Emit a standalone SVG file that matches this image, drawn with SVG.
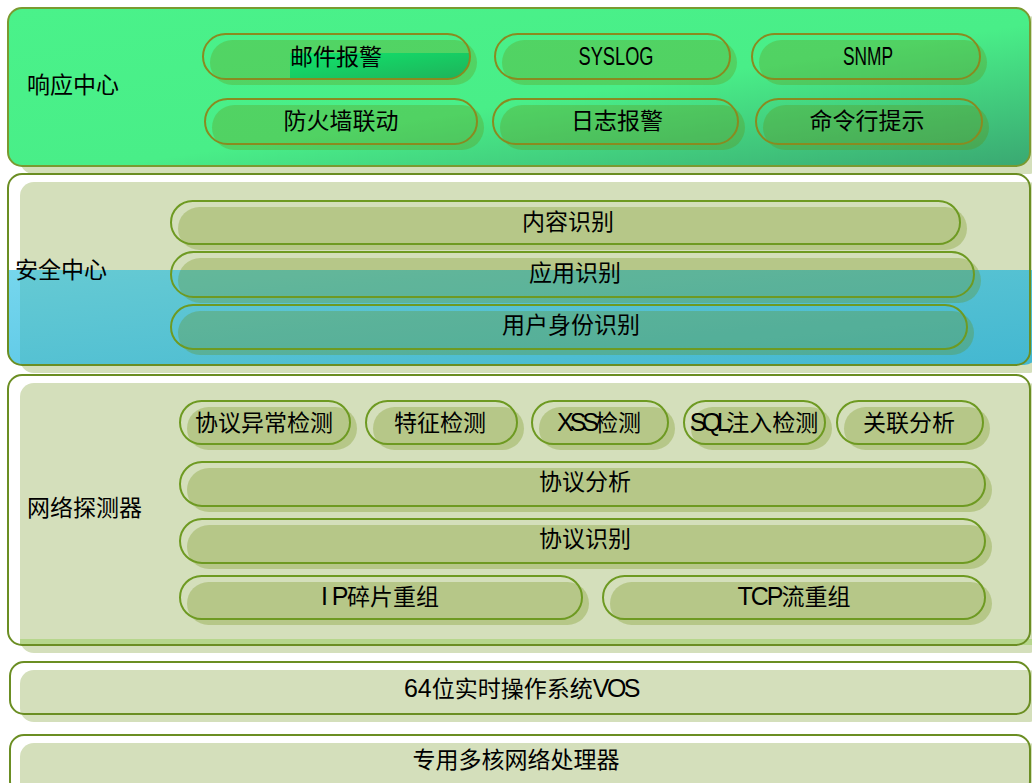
<svg xmlns="http://www.w3.org/2000/svg" width="1032" height="783" viewBox="0 0 1032 783">
<defs>
<linearGradient id="gGreen" x1="0" y1="0" x2="1" y2="1">
<stop offset="0" stop-color="#4af28a"/>
<stop offset="0.55" stop-color="#49ee88"/>
<stop offset="1" stop-color="#3aa872"/>
</linearGradient>
<linearGradient id="gBlue" x1="0" y1="0" x2="1" y2="1">
<stop offset="0" stop-color="#22bde2" stop-opacity="0.62"/>
<stop offset="1" stop-color="#14aad8" stop-opacity="0.76"/>
</linearGradient>
<linearGradient id="gBar" x1="0" y1="0" x2="1" y2="1">
<stop offset="0" stop-color="#10e46c"/>
<stop offset="1" stop-color="#1fb25a"/>
</linearGradient>
<clipPath id="cP2"><rect x="8" y="174" width="1030" height="191" rx="14"/></clipPath>
<clipPath id="cMail"><rect x="203" y="34" width="267" height="45" rx="22.5"/></clipPath>
</defs>
<style>
.pshadow{fill:#d4dfbb}
.pout{fill:none;stroke:#6b8e23;stroke-width:2}
.sh{fill:#688700;fill-opacity:0.27}
.ol{fill:none;stroke:#6e9a22;stroke-width:2}
.ol1{fill:none;stroke:#8a8a20;stroke-width:2}
.t{font-family:"Noto Sans CJK SC","Liberation Sans",sans-serif;font-size:23px;fill:#000;text-anchor:middle}
.tl{font-family:"Noto Sans CJK SC","Liberation Sans",sans-serif;font-size:23px;fill:#000}
.lat{font-family:"Liberation Sans",sans-serif;font-size:25px}
</style>

<!-- Panel 1: 响应中心 -->
<g id="panel-response">
<rect class="pshadow" x="20" y="16" width="1022" height="158" rx="14"/>
<rect x="8" y="8" width="1022" height="158" rx="14" fill="url(#gGreen)" stroke="#7a9a30" stroke-width="2"/>
<text class="tl" x="27" y="93">响应中心</text>
</g>
<g id="node-mail">
<rect class="sh" x="210" y="40" width="267" height="45" rx="22.5"/>
<rect x="290" y="53" width="180" height="26" fill="url(#gBar)" clip-path="url(#cMail)"/>
<rect class="ol1" x="203" y="34" width="267" height="45" rx="22.5"/>
<text class="t" x="336" y="65">邮件报警</text>
</g>
<g id="node-syslog">
<rect class="sh" x="502" y="40" width="235" height="45" rx="22.5"/>
<rect class="ol1" x="495" y="34" width="235" height="45" rx="22.5"/>
<text class="t lat" x="616" y="65" textLength="75" lengthAdjust="spacingAndGlyphs">SYSLOG</text>
</g>
<g id="node-snmp">
<rect class="sh" x="759" y="40" width="228" height="45" rx="22.5"/>
<rect class="ol1" x="752" y="34" width="228" height="45" rx="22.5"/>
<text class="t lat" x="868" y="65" textLength="50" lengthAdjust="spacingAndGlyphs">SNMP</text>
</g>
<g id="node-firewall">
<rect class="sh" x="212" y="105" width="272" height="45" rx="22.5"/>
<rect class="ol1" x="205" y="99" width="272" height="45" rx="22.5"/>
<text class="t" x="341" y="129">防火墙联动</text>
</g>
<g id="node-logalarm">
<rect class="sh" x="500" y="105" width="245" height="45" rx="22.5"/>
<rect class="ol1" x="493" y="99" width="245" height="45" rx="22.5"/>
<text class="t" x="617" y="129">日志报警</text>
</g>
<g id="node-cli">
<rect class="sh" x="763" y="105" width="226" height="45" rx="22.5"/>
<rect class="ol1" x="756" y="99" width="226" height="45" rx="22.5"/>
<text class="t" x="867" y="129">命令行提示</text>
</g>

<!-- Panel 2: 安全中心 -->
<g id="panel-security">
<rect x="8" y="174" width="1022" height="191" rx="14" fill="#ffffff"/>
<rect class="pshadow" x="20" y="182" width="1022" height="191" rx="14"/>
<rect x="8" y="270" width="1030" height="100" fill="url(#gBlue)" clip-path="url(#cP2)"/>
<rect class="pout" x="8" y="174" width="1022" height="191" rx="14"/>
<text class="tl" x="15" y="278">安全中心</text>
</g>
<g id="node-content">
<rect class="sh" x="178" y="207" width="789" height="43" rx="21.5"/>
<rect class="ol" x="171" y="201" width="789" height="43" rx="21.5"/>
<text class="t" x="568" y="230">内容识别</text>
</g>
<g id="node-app">
<rect class="sh" x="178" y="258" width="803" height="45" rx="22.5"/>
<rect class="ol" x="171" y="252" width="803" height="45" rx="22.5"/>
<text class="t" x="575" y="281">应用识别</text>
</g>
<g id="node-user">
<rect class="sh" x="178" y="311" width="796" height="44" rx="22"/>
<rect class="ol" x="171" y="305" width="796" height="44" rx="22"/>
<text class="t" x="571" y="333">用户身份识别</text>
</g>

<!-- Panel 3: 网络探测器 -->
<g id="panel-detector">
<rect x="8" y="375" width="1022" height="270" rx="14" fill="#ffffff"/>
<rect class="pshadow" x="20" y="383" width="1022" height="270" rx="14"/>
<rect x="20" y="639" width="1012" height="6" fill="#b6d68c"/>
<rect class="pout" x="8" y="375" width="1022" height="270" rx="14"/>
<text class="tl" x="27" y="516">网络探测器</text>
</g>
<g id="node-anomaly">
<rect class="sh" x="187" y="407" width="170" height="43" rx="21.5"/>
<rect class="ol" x="180" y="401" width="170" height="43" rx="21.5"/>
<text class="t" x="264" y="431">协议异常检测</text>
</g>
<g id="node-signature">
<rect class="sh" x="373" y="407" width="151" height="43" rx="21.5"/>
<rect class="ol" x="366" y="401" width="151" height="43" rx="21.5"/>
<text class="t" x="440" y="431">特征检测</text>
</g>
<g id="node-xss">
<rect class="sh" x="539" y="407" width="136" height="43" rx="21.5"/>
<rect class="ol" x="532" y="401" width="136" height="43" rx="21.5"/>
<text class="t" x="599" y="431"><tspan class="lat" letter-spacing="-4">XSS</tspan>检测</text>
</g>
<g id="node-sql">
<rect class="sh" x="691" y="407" width="141" height="43" rx="21.5"/>
<rect class="ol" x="684" y="401" width="141" height="43" rx="21.5"/>
<text class="t" x="754" y="431"><tspan class="lat" letter-spacing="-4.5">SQL</tspan>注入检测</text>
</g>
<g id="node-correlation">
<rect class="sh" x="844" y="407" width="146" height="43" rx="21.5"/>
<rect class="ol" x="837" y="401" width="146" height="43" rx="21.5"/>
<text class="t" x="909" y="431">关联分析</text>
</g>
<g id="node-protoanalysis">
<rect class="sh" x="187" y="468" width="805" height="44" rx="22"/>
<rect class="ol" x="180" y="462" width="805" height="44" rx="22"/>
<text class="t" x="585" y="490">协议分析</text>
</g>
<g id="node-protoident">
<rect class="sh" x="187" y="525" width="805" height="44" rx="22"/>
<rect class="ol" x="180" y="519" width="805" height="44" rx="22"/>
<text class="t" x="585" y="547">协议识别</text>
</g>
<g id="node-ipfrag">
<rect class="sh" x="187" y="582" width="402" height="43" rx="21.5"/>
<rect class="ol" x="180" y="576" width="402" height="43" rx="21.5"/>
<text class="t" x="380" y="605"><tspan class="lat" letter-spacing="-1.5">I P</tspan>碎片重组</text>
</g>
<g id="node-tcp">
<rect class="sh" x="610" y="582" width="382" height="43" rx="21.5"/>
<rect class="ol" x="603" y="576" width="382" height="43" rx="21.5"/>
<text class="t" x="794" y="605"><tspan class="lat" letter-spacing="-2">TCP</tspan>流重组</text>
</g>

<!-- Panel 4 -->
<g id="panel-os">
<rect class="pshadow" x="20" y="670" width="1022" height="52" rx="14"/>
<rect class="pout" x="10" y="662" width="1020" height="52" rx="14"/>
<text class="t" x="521" y="697"><tspan class="lat">64</tspan>位实时操作系统<tspan class="lat" letter-spacing="-2.5">VOS</tspan></text>
</g>

<!-- Panel 5 -->
<g id="panel-cpu">
<rect class="pshadow" x="20" y="743" width="1022" height="60" rx="14"/>
<rect class="pout" x="10" y="735" width="1020" height="60" rx="14"/>
<text class="t" x="516" y="768">专用多核网络处理器</text>
</g>

<g id="connectors"/>
</svg>
